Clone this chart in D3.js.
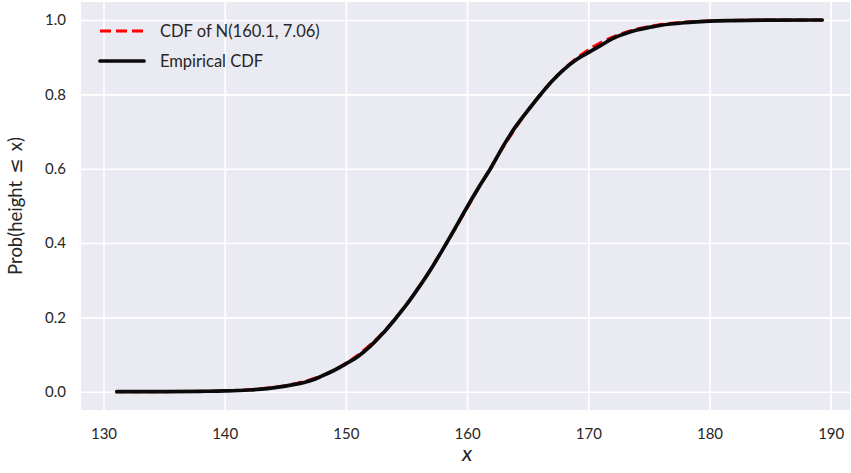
<!DOCTYPE html>
<html>
<head>
<meta charset="utf-8">
<script src="https://cdn.jsdelivr.net/npm/d3@7"></script>
<style>
  html, body { margin: 0; padding: 0; background: #ffffff; }
  svg { display: block; }
  text { font-family: Lato, "Open Sans", sans-serif; fill: #262626; }
</style>
</head>
<body>
<svg id="chart" width="851" height="473"></svg>
<script>
// ---- data ----
const xTicks = [130, 140, 150, 160, 170, 180, 190];
const yTicks = [0.0, 0.2, 0.4, 0.6, 0.8, 1.0];

// CDF of N(160.1, 7.06)
const normX = [131, 135, 138, 140, 142, 144, 145, 146, 147, 148, 149, 150, 151, 152, 153, 154, 155, 156, 157, 158, 159, 160, 161, 162, 163, 164, 165, 166, 167, 168, 169, 170, 171, 172, 173, 174, 175, 176, 178, 180, 182, 185, 189.3];
const normY = [0.0000, 0.0002, 0.0009, 0.0022, 0.0052, 0.0113, 0.0162, 0.0229, 0.0317, 0.0432, 0.0580, 0.0763, 0.0987, 0.1257, 0.1573, 0.1938, 0.2351, 0.2806, 0.3303, 0.3832, 0.4381, 0.4944, 0.5507, 0.6061, 0.6594, 0.7096, 0.7562, 0.7984, 0.8357, 0.8684, 0.8963, 0.9196, 0.9387, 0.9541, 0.9662, 0.9755, 0.9826, 0.9878, 0.9944, 0.9976, 0.9990, 0.9998, 1.0000];

// Empirical CDF
const empX = [131.1, 135, 138, 140, 142, 143.5, 145, 146, 147, 148, 149, 150, 151, 152, 153, 154, 155, 156, 157, 158, 159, 160, 161, 162, 163, 164, 165, 166, 167, 168, 169, 170, 171, 172, 173, 174, 175, 176, 178, 180, 182, 185, 189.3];
const empY = [0.0000, 0.0003, 0.0010, 0.0020, 0.0045, 0.0085, 0.0150, 0.0210, 0.0290, 0.0420, 0.0570, 0.0750, 0.0950, 0.1220, 0.1550, 0.1930, 0.2340, 0.2800, 0.3290, 0.3830, 0.4390, 0.4970, 0.5520, 0.6040, 0.6620, 0.7130, 0.7560, 0.7970, 0.8350, 0.8670, 0.8930, 0.9120, 0.9310, 0.9500, 0.9630, 0.9730, 0.9800, 0.9860, 0.9930, 0.9970, 0.9985, 0.9997, 1.0000];

const legendLabels = ["CDF of N(160.1, 7.06)", "Empirical CDF"];

// ---- layout ----
const svg = d3.select("#chart");
const plot = { left: 81, right: 850, top: 2, bottom: 410 };

const x = d3.scaleLinear().domain([130, 190]).range([103.5, 830.7]);
const y = d3.scaleLinear().domain([0, 1]).range([391.7, 20]);

// background
svg.append("rect")
  .attr("x", plot.left).attr("y", plot.top)
  .attr("width", plot.right - plot.left).attr("height", plot.bottom - plot.top)
  .attr("fill", "#EAEAF2");

// grid via axes
const gx = svg.append("g")
  .attr("transform", `translate(0,${plot.bottom})`)
  .call(d3.axisBottom(x).tickValues(xTicks).tickFormat(d3.format("d"))
        .tickSize(-(plot.bottom - plot.top)).tickPadding(18));
gx.select(".domain").remove();
gx.selectAll(".tick line").attr("stroke", "#ffffff").attr("stroke-width", 1.6);
gx.selectAll(".tick text").attr("font-size", 15).attr("fill", "#262626");

const gy = svg.append("g")
  .attr("transform", `translate(${plot.left},0)`)
  .call(d3.axisLeft(y).tickValues(yTicks).tickFormat(d3.format(".1f"))
        .tickSize(-(plot.right - plot.left)).tickPadding(15));
gy.select(".domain").remove();
gy.selectAll(".tick line").attr("stroke", "#ffffff").attr("stroke-width", 1.6);
gy.selectAll(".tick text").attr("font-size", 15).attr("fill", "#262626");

// lines
const line = d3.line().curve(d3.curveMonotoneX);
const normPts = normX.map((v, i) => [x(v), y(normY[i])]);
const empPts = empX.map((v, i) => [x(v), y(empY[i])]);

svg.append("path")
  .attr("d", line(normPts))
  .attr("fill", "none")
  .attr("stroke", "#ff0000")
  .attr("stroke-width", 3)
  .attr("stroke-dasharray", "11,5");

svg.append("path")
  .attr("d", line(empPts))
  .attr("fill", "none")
  .attr("stroke", "#0a0a0a")
  .attr("stroke-width", 3.7)
  .attr("stroke-linecap", "round")
  .attr("stroke-linejoin", "round");

// legend
const lg = svg.append("g");
lg.append("line").attr("x1", 100).attr("x2", 144).attr("y1", 31).attr("y2", 31)
  .attr("stroke", "#ff0000").attr("stroke-width", 3).attr("stroke-dasharray", "11,5");
lg.append("line").attr("x1", 100).attr("x2", 144).attr("y1", 61).attr("y2", 61)
  .attr("stroke", "#0a0a0a").attr("stroke-width", 3.7).attr("stroke-linecap", "round");
lg.append("text").attr("x", 160).attr("y", 31).attr("dy", "0.35em")
  .attr("font-size", 16.5).text(legendLabels[0]);
lg.append("text").attr("x", 160).attr("y", 61).attr("dy", "0.35em")
  .attr("font-size", 16.5).text(legendLabels[1]);

// axis labels
svg.append("text")
  .attr("x", x(160)).attr("y", 461)
  .attr("text-anchor", "middle")
  .attr("font-size", 22).attr("font-style", "italic")
  .text("x");

const yl = svg.append("text")
  .attr("transform", `translate(22,${(plot.top + plot.bottom) / 2}) rotate(-90)`)
  .attr("text-anchor", "middle")
  .attr("font-size", 18.5);
yl.append("tspan").text("Prob(height\u2009 ");
yl.append("tspan").attr("font-family", "'DejaVu Sans', sans-serif").attr("font-size", 18.5).text("\u2264");
yl.append("tspan").text(" \u2009x)");
</script>
</body>
</html>
